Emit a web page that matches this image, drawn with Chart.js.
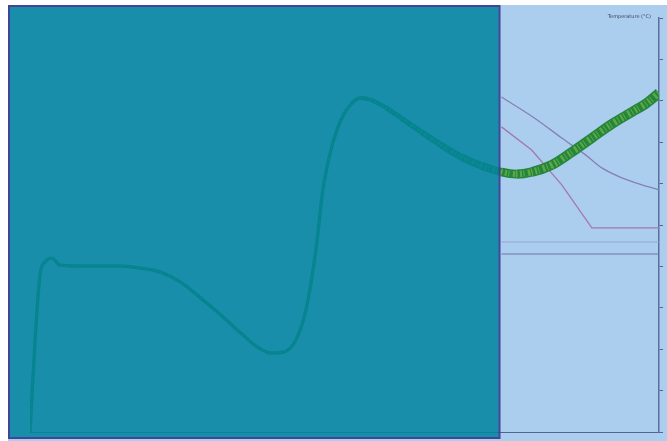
<!DOCTYPE html>
<html><head><meta charset="utf-8">
<script src="https://cdn.jsdelivr.net/npm/chart.js@4.4.1/dist/chart.umd.min.js"></script>
<style>
html,body{margin:0;padding:0;background:#ffffff;width:667px;height:441px;overflow:hidden}
#frame{position:absolute;left:8px;top:5px;width:659px;height:436px;overflow:hidden;background:#abcdee}
canvas{display:block}
</style></head><body>
<div id="frame"><canvas id="c" width="680" height="436"></canvas></div>
<script>
// Measured trace: time (s) and temperature
const timeS = [0, 3.7, 7.3, 11.0, 16.1, 22.0, 36.7, 51.4, 66.0, 80.7, 95.4, 110.1, 124.7, 139.4, 154.1, 165.1, 176.1, 185.6, 194.4, 201.8, 209.1, 214.2, 220.1, 227.4, 234.8, 242.1, 249.5, 260.5, 271.5, 286.1, 300.8, 315.5, 330.2, 344.8, 355.8, 366.9, 381.5, 396.2, 410.8, 425.5, 440.2, 451.2, 460];
const temperature = [0, 22.2, 37.9, 41.1, 42.0, 40.3, 40.1, 40.1, 40.1, 39.6, 38.6, 36.2, 32.4, 28.3, 23.9, 20.8, 19.1, 19.3, 22.2, 29.5, 44.0, 58.5, 68.1, 75.4, 79.2, 80.7, 80.2, 78.3, 75.8, 72.5, 69.3, 66.4, 64.3, 62.8, 62.3, 62.8, 64.5, 67.6, 71.0, 74.4, 77.3, 79.5, 81.9];

// Set-point profiles
const profileATime = [344.8, 369.1, 388.9, 407.2, 418.2, 432.9, 447.6, 460];
const profileA = [80.9, 75.8, 71.0, 66.7, 63.8, 61.4, 59.7, 58.5];
const profileBTime = [344.8, 366.9, 388.9, 410.9, 460];
const profileB = [73.7, 68.1, 59.7, 49.3, 49.3];

// Reference levels
const levelTime = [344.8, 460];
const levelHigh = [45.9, 45.9];
const levelLow = [43.0, 43.0];

// Axis ticks
const xTicks = [0, 460, 10];
const yTicks = [0, 100, 10];

// Highlighted (selected) time window end
const selectionEnd = 343.4;
const axisTitle = 'Temperature (°C)';

const pts = (xs, ys) => xs.map((x, i) => ({x, y: ys[i]}));
const widthAt = ctx => {
  const x = ctx.p0.parsed.x;
  const t = Math.min(1, Math.max(0, (x - 230) / 140));
  return 3.4 + 6.6 * t;
};

const overlay = {
  id: 'overlay',
  afterDraw(chart) {
    const c = chart.ctx;
    const xs = chart.scales.x;
    const right = xs.getPixelForValue(selectionEnd);
    c.save();
    c.fillStyle = 'rgba(0,131,158,0.86)';
    c.fillRect(0, 0, right, chart.height - 2);
    c.strokeStyle = 'rgba(70,60,150,0.9)';
    c.lineWidth = 2;
    c.strokeRect(1, 1, right - 1, chart.height - 4);
    c.restore();
    const a = chart.chartArea;
    c.save();
    c.font = '5px "DejaVu Sans"';
    c.fillStyle = '#3b4660';
    c.textAlign = 'right';
    c.textBaseline = 'middle';
    c.fillText(axisTitle, a.right - 8, a.top - 1);
    c.restore();
  }
};

new Chart(document.getElementById('c'), {
  type: 'line',
  data: {
    datasets: [
      {order: 5, data: pts(levelTime, levelHigh), borderColor: 'rgba(150,160,205,0.9)', borderWidth: 1},
      {order: 4, data: pts(levelTime, levelLow), borderColor: 'rgb(115,115,165)', borderWidth: 1.2},
      {order: 3, data: pts(profileBTime, profileB), borderColor: 'rgb(165,120,170)', borderWidth: 1.3},
      {order: 2, data: pts(profileATime, profileA), borderColor: 'rgb(135,128,180)', borderWidth: 1.3, cubicInterpolationMode: 'monotone'},
      {order: 1, data: pts(timeS, temperature), borderColor: 'rgb(36,134,60)', cubicInterpolationMode: 'monotone',
        segment: {borderWidth: widthAt}},
      {order: 0, data: pts(timeS, temperature), borderColor: 'rgba(135,190,75,0.6)', cubicInterpolationMode: 'monotone',
        segment: {borderWidth: ctx => Math.max(1, widthAt(ctx) - 3), borderDash: () => [1, 2.5, 2, 1.5, 1, 3.5, 2.5, 2]}}
    ]
  },
  options: {
    responsive: false,
    animation: false,
    devicePixelRatio: 1,
    layout: {padding: {left: 22, top: 13, right: 0, bottom: 0}},
    elements: {point: {radius: 0}, line: {fill: false}},
    plugins: {legend: {display: false}, tooltip: {enabled: false}, title: {display: false}},
    scales: {
      x: {
        type: 'linear', min: xTicks[0], max: xTicks[1],
        afterFit: s => { s.height = 9; },
        grid: {display: false, drawOnChartArea: false},
        border: {display: true, color: 'rgb(80,100,150)', width: 1},
        ticks: {stepSize: xTicks[2], padding: 1, maxRotation: 0, autoSkip: false,
          font: {size: 5, family: 'DejaVu Sans'}, color: 'rgb(55,75,125)'}
      },
      y: {
        position: 'right', min: yTicks[0], max: yTicks[1],
        afterFit: s => { s.width = 29; },
        grid: {drawOnChartArea: false, tickLength: 4, color: 'rgb(80,100,150)'},
        border: {display: true, color: 'rgb(90,110,160)', width: 1.5},
        ticks: {stepSize: yTicks[2], padding: 5,
          font: {size: 6, family: 'DejaVu Sans'}, color: 'rgb(60,80,130)'}
      }
    }
  },
  plugins: [overlay]
});
</script>
</body></html>
